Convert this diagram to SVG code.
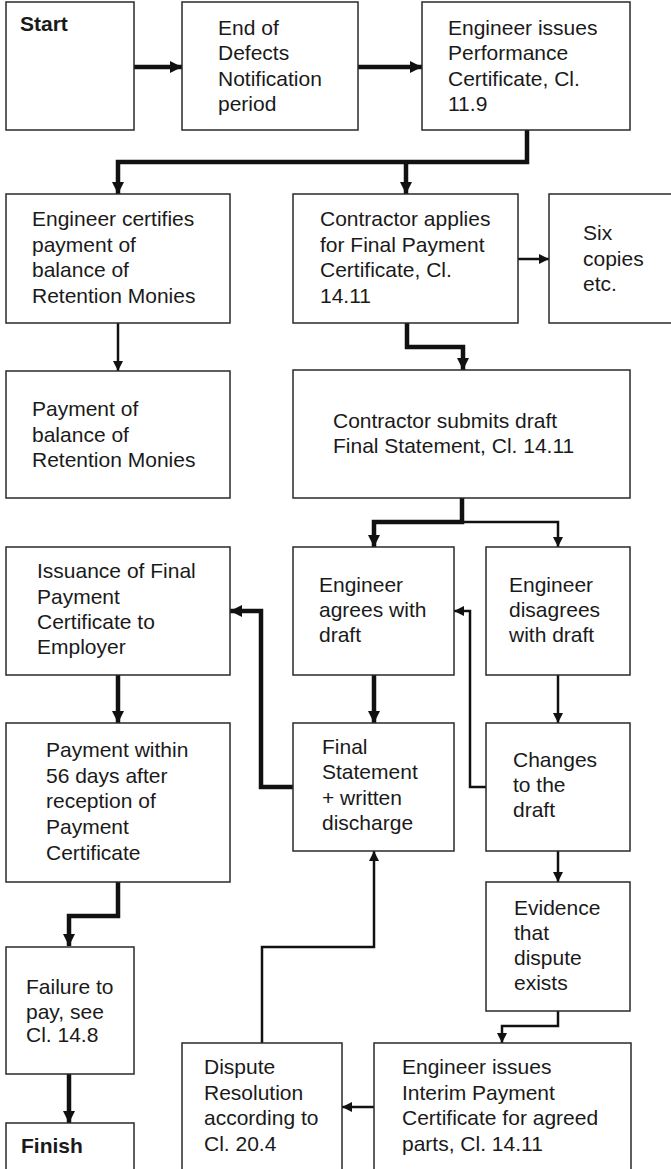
<svg xmlns="http://www.w3.org/2000/svg" width="671" height="1169" viewBox="0 0 671 1169">
<style>
.box{fill:#fff;stroke:#2a2a2a;stroke-width:1.5}
.t{font-family:"Liberation Sans",Arial,Helvetica,sans-serif;font-size:21px;fill:#1a1a1a}
.b{font-weight:bold}
.thick{fill:none;stroke:#111;stroke-width:4.5;stroke-linejoin:miter;marker-end:url(#ah)}
.thin{fill:none;stroke:#111;stroke-width:2.5;stroke-linejoin:miter;marker-end:url(#as)}
</style>
<defs>
<marker id="ah" markerUnits="userSpaceOnUse" markerWidth="13" markerHeight="13" refX="12" refY="6.5" orient="auto" viewBox="0 0 13 13"><path d="M0,0.5 L12,6.5 L0,12.5 z" fill="#111"/></marker>
<marker id="as" markerUnits="userSpaceOnUse" markerWidth="11" markerHeight="11" refX="10" refY="5.5" orient="auto" viewBox="0 0 11 11"><path d="M0,0.5 L10,5.5 L0,10.5 z" fill="#111"/></marker>
</defs>
<rect width="671" height="1169" fill="#fff"/>
<g id="connectors">
<path class="thick" d="M134,67 H182"/>
<path class="thick" d="M358,67 H422"/>
<path class="thick" d="M527,130 V162 H118 V194"/>
<path class="thick" d="M406,162 V194"/>
<path class="thin" d="M118,323 V371"/>
<path class="thin" d="M518,259 H549"/>
<path class="thick" d="M407,323 V347 H463 V370"/>
<path class="thick" d="M462,498 V522 H374 V547"/>
<path class="thin" d="M462,522 H558 V547"/>
<path class="thin" d="M558,675 V723"/>
<path class="thick" d="M374,675 V723"/>
<path class="thick" d="M293,787 H261 V611 H230"/>
<path class="thin" d="M486,787 H470 V611 H454"/>
<path class="thin" d="M558,851 V882"/>
<path class="thin" d="M558,1011 V1026 H502 V1043"/>
<path class="thin" d="M374,1107 H342"/>
<path class="thin" d="M262,1043 V947 H374 V851"/>
<path class="thick" d="M118,675 V723"/>
<path class="thick" d="M118,882 V916 H69 V946"/>
<path class="thick" d="M69,1074 V1123"/>
</g>
<g id="start"><rect class="box" x="6" y="2" width="128" height="128"/><text class="t b" x="20" y="31">Start</text></g>
<g id="end-defects"><rect class="box" x="182" y="2" width="176" height="128"/><text class="t" x="218" y="35">End of</text><text class="t" x="218" y="60">Defects</text><text class="t" x="218" y="86">Notification</text><text class="t" x="218" y="111">period</text></g>
<g id="performance-cert"><rect class="box" x="422" y="2" width="208" height="128"/><text class="t" x="448" y="35">Engineer issues</text><text class="t" x="448" y="60">Performance</text><text class="t" x="448" y="86">Certificate, Cl.</text><text class="t" x="448" y="111">11.9</text></g>
<g id="certifies-retention"><rect class="box" x="6" y="194" width="224" height="129"/><text class="t" x="32" y="226">Engineer certifies</text><text class="t" x="32" y="252">payment of</text><text class="t" x="32" y="277">balance of</text><text class="t" x="32" y="303">Retention Monies</text></g>
<g id="applies-final"><rect class="box" x="293" y="194" width="225" height="129"/><text class="t" x="320" y="226">Contractor applies</text><text class="t" x="320" y="252">for Final Payment</text><text class="t" x="320" y="277">Certificate, Cl.</text><text class="t" x="320" y="303">14.11</text></g>
<g id="six-copies"><rect class="box" x="549" y="194" width="131" height="129"/><text class="t" x="583" y="240">Six</text><text class="t" x="583" y="266">copies</text><text class="t" x="583" y="291">etc.</text></g>
<g id="payment-retention"><rect class="box" x="6" y="371" width="224" height="127"/><text class="t" x="32" y="416">Payment of</text><text class="t" x="32" y="442">balance of</text><text class="t" x="32" y="467">Retention Monies</text></g>
<g id="submits-draft"><rect class="box" x="293" y="370" width="337" height="128"/><text class="t" x="333" y="428">Contractor submits draft</text><text class="t" x="333" y="453">Final Statement, Cl. 14.11</text></g>
<g id="issuance"><rect class="box" x="6" y="547" width="224" height="128"/><text class="t" x="37" y="578">Issuance of Final</text><text class="t" x="37" y="604">Payment</text><text class="t" x="37" y="629">Certificate to</text><text class="t" x="37" y="654">Employer</text></g>
<g id="agrees"><rect class="box" x="293" y="547" width="161" height="128"/><text class="t" x="319" y="592">Engineer</text><text class="t" x="319" y="617">agrees with</text><text class="t" x="319" y="642">draft</text></g>
<g id="disagrees"><rect class="box" x="486" y="547" width="144" height="128"/><text class="t" x="509" y="592">Engineer</text><text class="t" x="509" y="617">disagrees</text><text class="t" x="509" y="642">with draft</text></g>
<g id="payment-56"><rect class="box" x="6" y="723" width="224" height="159"/><text class="t" x="46" y="757">Payment within</text><text class="t" x="46" y="783">56 days after</text><text class="t" x="46" y="808">reception of</text><text class="t" x="46" y="834">Payment</text><text class="t" x="46" y="860">Certificate</text></g>
<g id="final-statement"><rect class="box" x="293" y="723" width="161" height="128"/><text class="t" x="322" y="754">Final</text><text class="t" x="322" y="779">Statement</text><text class="t" x="322" y="805">+ written</text><text class="t" x="322" y="830">discharge</text></g>
<g id="changes"><rect class="box" x="486" y="723" width="144" height="128"/><text class="t" x="513" y="767">Changes</text><text class="t" x="513" y="792">to the</text><text class="t" x="513" y="817">draft</text></g>
<g id="evidence"><rect class="box" x="486" y="882" width="144" height="129"/><text class="t" x="514" y="915">Evidence</text><text class="t" x="514" y="940">that</text><text class="t" x="514" y="965">dispute</text><text class="t" x="514" y="990">exists</text></g>
<g id="failure"><rect class="box" x="6" y="947" width="128" height="127"/><text class="t" x="26" y="994">Failure to</text><text class="t" x="26" y="1019">pay, see</text><text class="t" x="26" y="1042">Cl. 14.8</text></g>
<g id="dispute-resolution"><rect class="box" x="182" y="1043" width="160" height="140"/><text class="t" x="204" y="1074">Dispute</text><text class="t" x="204" y="1100">Resolution</text><text class="t" x="204" y="1125">according to</text><text class="t" x="204" y="1151">Cl. 20.4</text></g>
<g id="interim-cert"><rect class="box" x="374" y="1043" width="257" height="140"/><text class="t" x="402" y="1074">Engineer issues</text><text class="t" x="402" y="1100">Interim Payment</text><text class="t" x="402" y="1125">Certificate for agreed</text><text class="t" x="402" y="1151">parts, Cl. 14.11</text></g>
<g id="finish"><rect class="box" x="6" y="1123" width="128" height="60"/><text class="t b" x="21" y="1153">Finish</text></g>
</svg>
